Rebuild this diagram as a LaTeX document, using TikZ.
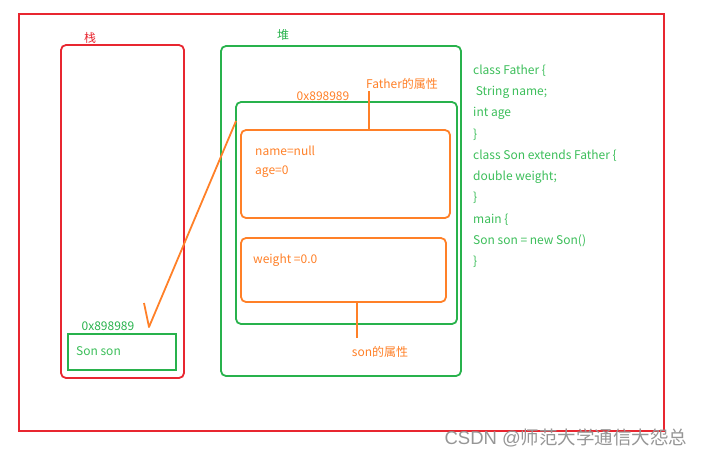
\documentclass[tikz,border=0pt]{standalone}
\usepackage{fontspec}
\setmainfont{Noto Sans CJK SC}
\newfontfamily\wmlatin{Liberation Sans}
\definecolor{cred}{RGB}{232,38,48}
\definecolor{cgreen}{RGB}{40,178,76}
\definecolor{ctxtgreen}{RGB}{60,190,90}
\definecolor{corange}{RGB}{255,128,40}
\definecolor{cgray}{RGB}{150,150,150}
\begin{document}
\begin{tikzpicture}[x=1pt,y=-1pt,
  box/.style={draw,line width=1.8pt,inner sep=0,outer sep=0,anchor=north west},
  rbox/.style={box,rounded corners=5pt},
  lbl/.style={inner sep=0,font=\fontsize{12}{14}\selectfont},
  ltxt/.style={lbl,anchor=west},
  wire/.style={corange,line width=1.8pt}]
\useasboundingbox (0,0) rectangle (707,458);
% outer frame
\node[box,cred,minimum width=645,minimum height=417] (frame) at (19,14) {};
% stack
\node[rbox,cred,minimum width=123,minimum height=333] (stack) at (61,45) {};
\node[lbl,cred] (stacklbl) at (90,38) {栈};
% heap
\node[rbox,cgreen,minimum width=240,minimum height=330] (heap) at (221,46) {};
\node[lbl,cgreen] (heaplbl) at (283,35) {堆};
% object
\node[rbox,cgreen,minimum width=221,minimum height=222] (obj) at (236,102) {};
\node[lbl,corange] (addr) at (323,96) {0x898989};
% father attributes
\node[rbox,corange,minimum width=209,minimum height=88] (fbox) at (241,130) {};
\node[ltxt,corange] (fname) at (255,151) {name=null};
\node[ltxt,corange] (fage) at (255,172) {age=0};
\node[lbl,corange] (flbl) at (402,84) {Father的属性};
\draw[wire] (369,91) -- (fbox.north -| 369,0);
% son attributes
\node[rbox,corange,minimum width=205,minimum height=64] (sbox) at (241,238) {};
\node[ltxt,corange] (sw) at (253,260) {weight =0.0};
\node[lbl,corange] (slbl) at (380,352) {son的属性};
\draw[wire] (sbox.south -| 357,0) -- (357,338);
% reference
\node[box,cgreen,minimum width=108,minimum height=36] (var) at (68,334) {};
\node[ltxt,ctxtgreen] (vartxt) at (76,351) {Son son};
\node[lbl,cgreen] (varaddr) at (108,326) {0x898989};
\coordinate (tipA) at (144,303);
\coordinate (tip) at (149,327);
\coordinate (src) at (236,121);
\draw[wire,line join=round] (tipA) -- (tip) -- (src);
% code
\foreach \t [count=\i from 0] in {class Father \{, \ String name;, int age, \}, class Son extends Father \{, double weight;, \}, main \{, Son son = new Son(), \}}
  \node[ltxt,ctxtgreen] (code\i) at (473,{71+21.2*\i}) {\t};
% watermark
\node[lbl,cgray,font=\fontsize{18.5}{20}\selectfont] (wm) at (566,438) {{\wmlatin CSDN @}师范大学通信大怨总};
\end{tikzpicture}
\end{document}
